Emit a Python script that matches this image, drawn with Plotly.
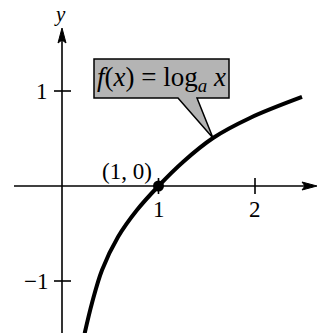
import plotly.graph_objects as go

# Curve points
curve_x = [0.235, 0.311, 0.415, 0.580, 0.777, 1.0, 1.254, 1.565, 1.948, 2.487]
curve_y = [-1.55, -1.232, -0.884, -0.537, -0.253, 0.0, 0.253, 0.505, 0.716, 0.937]

point_x = [1]
point_y = [0]
point_label = "(1, 0)"

x_ticks = [1, 2]
x_tick_labels = ["1", "2"]
y_ticks = [1, -1]
y_tick_labels = ["1", "\u22121"]

label_text = "<i>f</i>(<i>x</i>) = log<sub><i>a</i></sub> <i>x</i>"

W, H = 323, 333
X0PX, Y0PX = 62, 186
SX, SY = 96.5, 95.0
xr = [-X0PX / SX, (W - X0PX) / SX]
yr = [(Y0PX - H) / SY, Y0PX / SY]

def dx(px):
    return (px - X0PX) / SX

def dy(py):
    return (Y0PX - py) / SY

SERIF = "Liberation Serif, Times New Roman, serif"

fig = go.Figure()
fig.add_trace(go.Scatter(x=curve_x, y=curve_y, mode="lines",
                         line=dict(color="black", width=4, shape="spline"),
                         hoverinfo="skip", showlegend=False))
fig.add_trace(go.Scatter(x=point_x, y=point_y, mode="markers",
                         marker=dict(color="black", size=11),
                         hoverinfo="skip", showlegend=False))

shapes = []
ax_line = dict(color="black", width=1.6)
# x axis
shapes.append(dict(type="line", x0=dx(14), y0=0, x1=dx(306), y1=0, line=ax_line, layer="below"))
shapes.append(dict(type="path", path=f"M {dx(317)},0 L {dx(302)},{4/SY} L {dx(305)},0 L {dx(302)},{-4/SY} Z",
                   fillcolor="black", line=dict(color="black", width=1)))
# y axis
shapes.append(dict(type="line", x0=0, y0=yr[0], x1=0, y1=dy(38), line=ax_line, layer="below"))
shapes.append(dict(type="path", path=f"M 0,{dy(28)} L {4/SX},{dy(43)} L 0,{dy(40)} L {-4/SX},{dy(43)} Z",
                   fillcolor="black", line=dict(color="black", width=1)))
# ticks
for t in x_ticks:
    shapes.append(dict(type="line", x0=t, y0=-8/SY, x1=t, y1=8/SY, line=ax_line))
for t in y_ticks:
    shapes.append(dict(type="line", x0=-8/SX, y0=t, x1=9/SX, y1=t, line=ax_line))

# label box with pointer
box = (f"M {dx(94)},{dy(59)} L {dx(229)},{dy(59)} L {dx(229)},{dy(98)} L {dx(197)},{dy(98)} "
       f"L {dx(213)},{dy(138)} L {dx(178)},{dy(98)} L {dx(94)},{dy(98)} Z")
shapes.append(dict(type="path", path=box, fillcolor="#b4b4b4",
                   line=dict(color="black", width=1.5)))

annotations = []
for t, lab in zip(x_ticks, x_tick_labels):
    annotations.append(dict(x=t, y=dy(209), text=lab, showarrow=False,
                            font=dict(family=SERIF, size=23, color="black")))
for t, lab in zip(y_ticks, y_tick_labels):
    annotations.append(dict(x=dx(50), y=t, text=lab, showarrow=False, xanchor="right",
                            font=dict(family=SERIF, size=23, color="black")))
annotations.append(dict(x=dx(127), y=dy(171), text=point_label, showarrow=False,
                        font=dict(family=SERIF, size=23, color="black")))
annotations.append(dict(x=dx(60), y=dy(14), text="<i>y</i>", showarrow=False,
                        font=dict(family=SERIF, size=21, color="black")))
annotations.append(dict(x=dx(161), y=dy(79), text=label_text, showarrow=False,
                        font=dict(family=SERIF, size=27, color="black")))

fig.update_layout(
    width=W, height=H, margin=dict(l=0, r=0, t=0, b=0),
    paper_bgcolor="white", plot_bgcolor="white",
    xaxis=dict(range=xr, visible=False, fixedrange=True),
    yaxis=dict(range=yr, visible=False, fixedrange=True),
    shapes=shapes, annotations=annotations, showlegend=False,
)
fig.write_html("out.html", config={"displayModeBar": False},
               post_script="document.body.style.margin='0';document.body.style.padding='0';")
